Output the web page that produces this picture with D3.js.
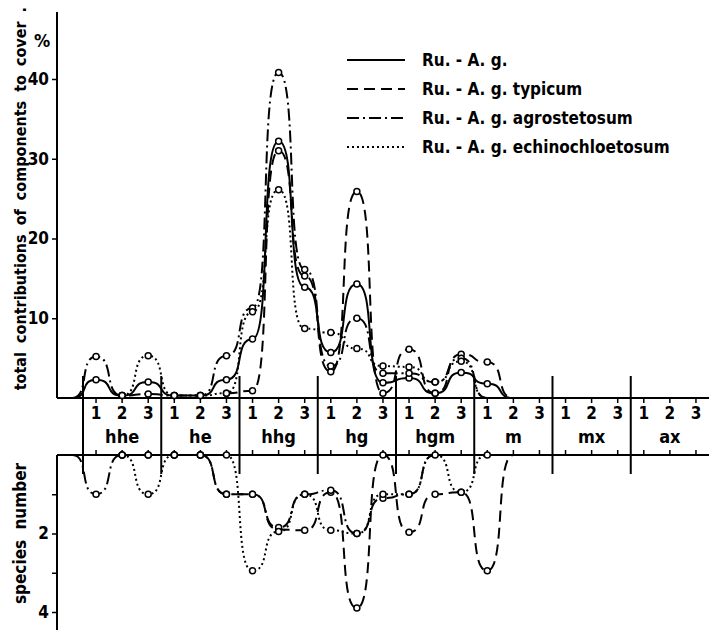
<!DOCTYPE html>
<html>
<head>
<meta charset="utf-8">
<script src="https://cdn.jsdelivr.net/npm/d3@7"></script>
<style>
  body { margin: 0; background: #fff; }
  text { font-family: "DejaVu Sans Condensed", "DejaVu Sans", sans-serif; font-stretch: condensed; font-weight: bold; fill: #000; }
</style>
</head>
<body>
<div id="chart"></div>
<script>
// categories
const groups = ["hhe", "he", "hhg", "hg", "hgm", "m", "mx", "ax"];
const subs = ["1", "2", "3"];
const positions = groups.flatMap(g => subs.map(s => g + s));

const seriesNames = ["Ru. - A. g.", "Ru. - A. g. typicum", "Ru. - A. g. agrostetosum", "Ru. - A. g. echinochloetosum"];

// cover contributions (%), one value per position hhe1 ... ax3
const coverAg  = [2.3, 0.3, 2.0, 0.3, 0.3, 2.3, 7.4, 32.2, 13.9, 5.7, 14.3, 1.9, 2.5, 0.6, 3.2, 1.8, 0, null, null, null, null, null, null, null];
const coverTyp = [null, null, null, null, null, 0.6, 0.9, 31.0, 15.3, 3.3, 25.9, 0.6, 6.1, 0.6, 5.5, 4.5, 0, null, null, null, null, null, null, null];
const coverAgr = [5.2, 0.3, 0.5, 0.3, 0.3, 5.3, 11.3, 40.8, 16.1, 4.0, 10.0, 3.1, 3.1, 2.0, 5.0, 0, null, null, null, null, null, null, null, null];
const coverEch = [null, 0.3, 5.3, 0.3, 0.3, 0.6, 10.8, 26.1, 8.7, 8.2, 6.2, 4.0, 3.9, 2.0, 4.6, 0, null, null, null, null, null, null, null, null];

// species number
const speciesTyp = [null, 0, 0, 0, 0, 1.0, 1.0, 1.9, 1.92, 0.95, 3.9, 0, 1.97, 1.0, 0.95, 2.95, 0, null, null, null, null, null, null, null];
const speciesAgr = [1.0, 0, 0, 0, 0, 1.0, 1.0, 1.85, 1.0, 0.9, 2.0, 1.1, 1.0, 0, null, null, null, null, null, null, null, null, null, null];
const speciesEch = [null, 0, 1.0, 0, 0, 0, 2.95, 1.95, 1.0, 1.92, 2.0, 1.0, 1.0, 0, 0.95, 0, 0, null, null, null, null, null, null, null];

const coverTicks = [10, 20, 30, 40];
const speciesTicks = [1, 2, 3, 4];

const dashes = [null, "11,6", "12,4,2,4", "2,3"];

const svgWidth = 709;
const svgHeight = 630;
const axisX = 57;
const bandTop = 398;
const bandBottom = 455;

const svg = d3.select("#chart")
    .append("svg")
    .attr("width", svgWidth)
    .attr("height", svgHeight);

const xGroup = d3.scaleBand().domain(groups).range([83, 709]);
const xPos = d3.scaleBand().domain(positions).range([83, 709]);
const xc = i => xPos(positions[i]) + xPos.bandwidth() / 2;

const yTop = d3.scaleLinear().domain([0, 40]).range([bandTop, 79]);
const yBot = d3.scaleLinear().domain([0, 4]).range([bandBottom, 612]);

// hand-drawn look: flat near each point, steep in between
function boxyCurve(context) {
    const f = 0.72;
    let first = true, x0, y0;
    return {
        areaStart() {}, areaEnd() {},
        lineStart() { first = true; },
        lineEnd() {},
        point(x, y) {
            x = +x; y = +y;
            if (first) {
                context.moveTo(x, y);
                first = false;
            } else {
                const dx = x - x0;
                context.bezierCurveTo(x0 + f * dx, y0, x - f * dx, y, x, y);
            }
            x0 = x; y0 = y;
        }
    };
}

// axes
const leftTop = d3.axisLeft(yTop).tickValues(coverTicks).tickSize(5).tickPadding(3);
const gTop = svg.append("g").attr("transform", `translate(${axisX},0)`).call(leftTop);
gTop.select(".domain").remove();
gTop.selectAll("text").style("font-size", "17px").attr("font-family", null);
gTop.selectAll("line").attr("stroke-width", 1.5);

const leftBot = d3.axisLeft(yBot).tickValues(speciesTicks).tickSize(5).tickPadding(3)
    .tickFormat(d => d % 2 === 0 ? d : "");
const gBot = svg.append("g").attr("transform", `translate(${axisX},0)`).call(leftBot);
gBot.select(".domain").remove();
gBot.selectAll("text").style("font-size", "17px").attr("font-family", null);
gBot.selectAll("line").attr("stroke-width", 1.5);

svg.append("line").attr("x1", axisX).attr("x2", axisX).attr("y1", 12).attr("y2", bandTop)
    .attr("stroke", "#000").attr("stroke-width", 2);
svg.append("line").attr("x1", axisX).attr("x2", axisX).attr("y1", bandBottom).attr("y2", 630)
    .attr("stroke", "#000").attr("stroke-width", 2);

svg.append("text").attr("x", 42).attr("y", 47).attr("text-anchor", "middle")
    .style("font-size", "18px").text("%");

svg.append("text")
    .attr("transform", `translate(26,${yTop(25)}) rotate(-90)`)
    .attr("text-anchor", "middle")
    .style("font-size", "16px")
    .style("word-spacing", "4px")
    .text("total contributions of components to cover .");

svg.append("text")
    .attr("transform", `translate(26,${yBot(2.0)}) rotate(-90)`)
    .attr("text-anchor", "middle")
    .style("font-size", "17px")
    .style("word-spacing", "5px")
    .text("species number");

// category band
[bandTop, bandBottom].forEach(y => {
    svg.append("line").attr("x1", axisX).attr("x2", svgWidth).attr("y1", y).attr("y2", y)
        .attr("stroke", "#000").attr("stroke-width", 2);
});

const bandAxis = d3.axisBottom(xPos).tickSize(5).tickPadding(4).tickFormat(d => d.slice(-1));
const gBand = svg.append("g").attr("transform", `translate(0,${bandTop})`).call(bandAxis);
gBand.select(".domain").remove();
gBand.selectAll("text").style("font-size", "17px").attr("font-family", null);
gBand.selectAll("line").attr("stroke-width", 1.5);

const bandAxis2 = d3.axisTop(xPos).tickSize(5).tickFormat("");
const gBand2 = svg.append("g").attr("transform", `translate(0,${bandBottom})`).call(bandAxis2);
gBand2.select(".domain").remove();
gBand2.selectAll("line").attr("stroke-width", 1.5);

svg.selectAll(".sep")
    .data(groups)
    .enter()
    .append("line")
    .attr("x1", d => xGroup(d))
    .attr("x2", d => xGroup(d))
    .attr("y1", 376)
    .attr("y2", 474)
    .attr("stroke", "#000")
    .attr("stroke-width", 2);

svg.selectAll(".glabel")
    .data(groups)
    .enter()
    .append("text")
    .attr("x", d => xGroup(d) + xGroup.bandwidth() / 2)
    .attr("y", 443)
    .attr("text-anchor", "middle")
    .style("font-size", "18px")
    .text(d => d);

// curves
function drawSeries(values, yScale, dash) {
    let pts = values.map((v, i) => ({ x: xc(i), v: v, i: i })).filter(p => p.v !== null);
    const last = pts[pts.length - 1];
    const line = d3.line()
        .x(p => p.x)
        .y(p => yScale(p.v))
        .curve(boxyCurve);
    let linePts = pts.slice();
    if (values[0] !== null) {
        linePts.unshift({ x: xc(0) - xPos.bandwidth() * 0.9, v: 0 });
    }
    svg.append("path")
        .datum(linePts)
        .attr("d", line)
        .attr("fill", "none")
        .attr("stroke", "#000")
        .attr("stroke-width", 2)
        .attr("stroke-dasharray", dash);
    return pts.filter(p => !(p === last && p.v === 0)).map(p => ({ x: p.x, y: yScale(p.v) }));
}

let dots = [];
[coverAg, coverTyp, coverAgr, coverEch].forEach((s, k) => {
    dots = dots.concat(drawSeries(s, yTop, dashes[k]));
});
[null, speciesTyp, speciesAgr, speciesEch].forEach((s, k) => {
    if (s) dots = dots.concat(drawSeries(s, yBot, dashes[k]));
});

svg.selectAll(".dot")
    .data(dots)
    .enter()
    .append("circle")
    .attr("cx", d => d.x)
    .attr("cy", d => d.y)
    .attr("r", 3)
    .attr("fill", "#fff")
    .attr("stroke", "#000")
    .attr("stroke-width", 1.5);

// legend
const legend = svg.append("g");
seriesNames.forEach((name, k) => {
    const y = 60 + k * 29;
    legend.append("line")
        .attr("x1", 347).attr("x2", 405).attr("y1", y).attr("y2", y)
        .attr("stroke", "#000").attr("stroke-width", 2)
        .attr("stroke-dasharray", dashes[k]);
    legend.append("text")
        .attr("x", 422).attr("y", y + 6)
        .style("font-size", "17px")
        .text(name);
});
</script>
</body>
</html>
